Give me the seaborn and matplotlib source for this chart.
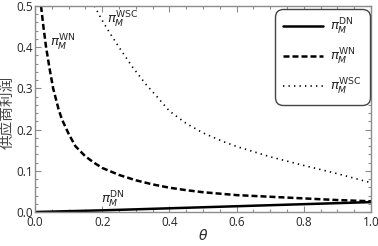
import pandas as pd
import matplotlib
matplotlib.use("Agg")
import matplotlib.pyplot as plt
from matplotlib.ticker import MultipleLocator
import seaborn as sns

# values
theta_dn = [0.0, 0.2, 0.4, 0.6, 0.8, 1.0]
profit_dn = [0.0, 0.004, 0.009, 0.014, 0.019, 0.024]

theta_wn = [0.018, 0.025, 0.033, 0.043, 0.054, 0.07, 0.08, 0.1, 0.12, 0.15,
            0.175, 0.2, 0.25, 0.3, 0.35, 0.4, 0.45, 0.5, 0.6, 0.7, 0.8, 0.9, 1.0]
profit_wn = [0.5, 0.45, 0.4, 0.35, 0.3, 0.25, 0.225, 0.19, 0.16, 0.135,
             0.12, 0.107, 0.09, 0.077, 0.067, 0.059, 0.053, 0.048, 0.041, 0.037,
             0.033, 0.029, 0.026]

theta_wsc = [0.177, 0.2, 0.223, 0.25, 0.29, 0.33, 0.363, 0.4, 0.45, 0.5,
             0.56, 0.6, 0.7, 0.8, 0.9, 1.0]
profit_wsc = [0.5, 0.465, 0.434, 0.4, 0.352, 0.31, 0.28, 0.245, 0.215, 0.192,
              0.171, 0.159, 0.134, 0.113, 0.093, 0.071]

labels = [r"$\pi_M^{\mathrm{DN}}$", r"$\pi_M^{\mathrm{WN}}$", r"$\pi_M^{\mathrm{WSC}}$"]

sns.set_style("ticks")
plt.rcParams["font.family"] = ["Open Sans", "DejaVu Sans"]
plt.rcParams["mathtext.fontset"] = "dejavusans"

frame = "#8c8c8c"

fig = plt.figure(figsize=(3.78, 2.46), dpi=100)
ax = fig.add_axes([35 / 378, 1 - 212 / 246, 336 / 378, 206 / 246])

df_dn = pd.DataFrame({"theta": theta_dn, "profit": profit_dn})
df_wn = pd.DataFrame({"theta": theta_wn, "profit": profit_wn})
df_wsc = pd.DataFrame({"theta": theta_wsc, "profit": profit_wsc})

sns.lineplot(data=df_dn, x="theta", y="profit", ax=ax, color="black", lw=1.8,
             label=labels[0])
sns.lineplot(data=df_wn, x="theta", y="profit", ax=ax, color="black", lw=1.8,
             label=labels[1]).lines[-1].set_dashes([2.4, 1.2])
sns.lineplot(data=df_wsc, x="theta", y="profit", ax=ax, color="black", lw=1.2,
             label=labels[2]).lines[-1].set_dashes([0.8, 2.5])

ax.set_xlim(0, 1)
ax.set_ylim(0, 0.5)
ax.xaxis.set_major_locator(MultipleLocator(0.2))
ax.xaxis.set_minor_locator(MultipleLocator(0.05))
ax.yaxis.set_major_locator(MultipleLocator(0.1))
ax.yaxis.set_minor_locator(MultipleLocator(0.02))
ax.xaxis.set_major_formatter(lambda v, p: f"{v:.1f}")
ax.yaxis.set_major_formatter(lambda v, p: f"{v:.1f}")
ax.tick_params(which="both", direction="in", top=True, right=True, color=frame,
               width=0.8, labelsize=8.5, pad=1.5)
ax.tick_params(axis="x", which="both", pad=3)
ax.tick_params(which="major", length=4)
ax.tick_params(which="minor", length=2)
for s in ax.spines.values():
    s.set_color(frame)
    s.set_linewidth(1.0)

ax.set_xlabel(r"$\theta$", fontsize=10, labelpad=0)
ax.set_ylabel("")
fig.text(8 / 378, 1 - 112 / 246, "供应商利润", rotation=90, ha="center", va="center",
         fontsize=10.5, family=["Noto Sans CJK SC", "DejaVu Sans"], color="#444444")

ax.text(0.045, 0.41, labels[1], fontsize=9.5, va="center")
ax.text(0.214, 0.466, labels[2], fontsize=9.5, va="center")
ax.text(0.195, 0.03, labels[0], fontsize=9.5, va="center")

leg = ax.legend(loc="upper right", bbox_to_anchor=(0.985, 0.968), borderaxespad=0,
                fontsize=9.5, handlelength=3.0, labelspacing=0.75, fancybox=True,
                framealpha=1, edgecolor="#444444", borderpad=0.3, handletextpad=0.6)
leg.get_frame().set_linewidth(1.0)
leg.get_frame().set_boxstyle("round", rounding_size=0.6)

fig.savefig("out.png", dpi=100)
